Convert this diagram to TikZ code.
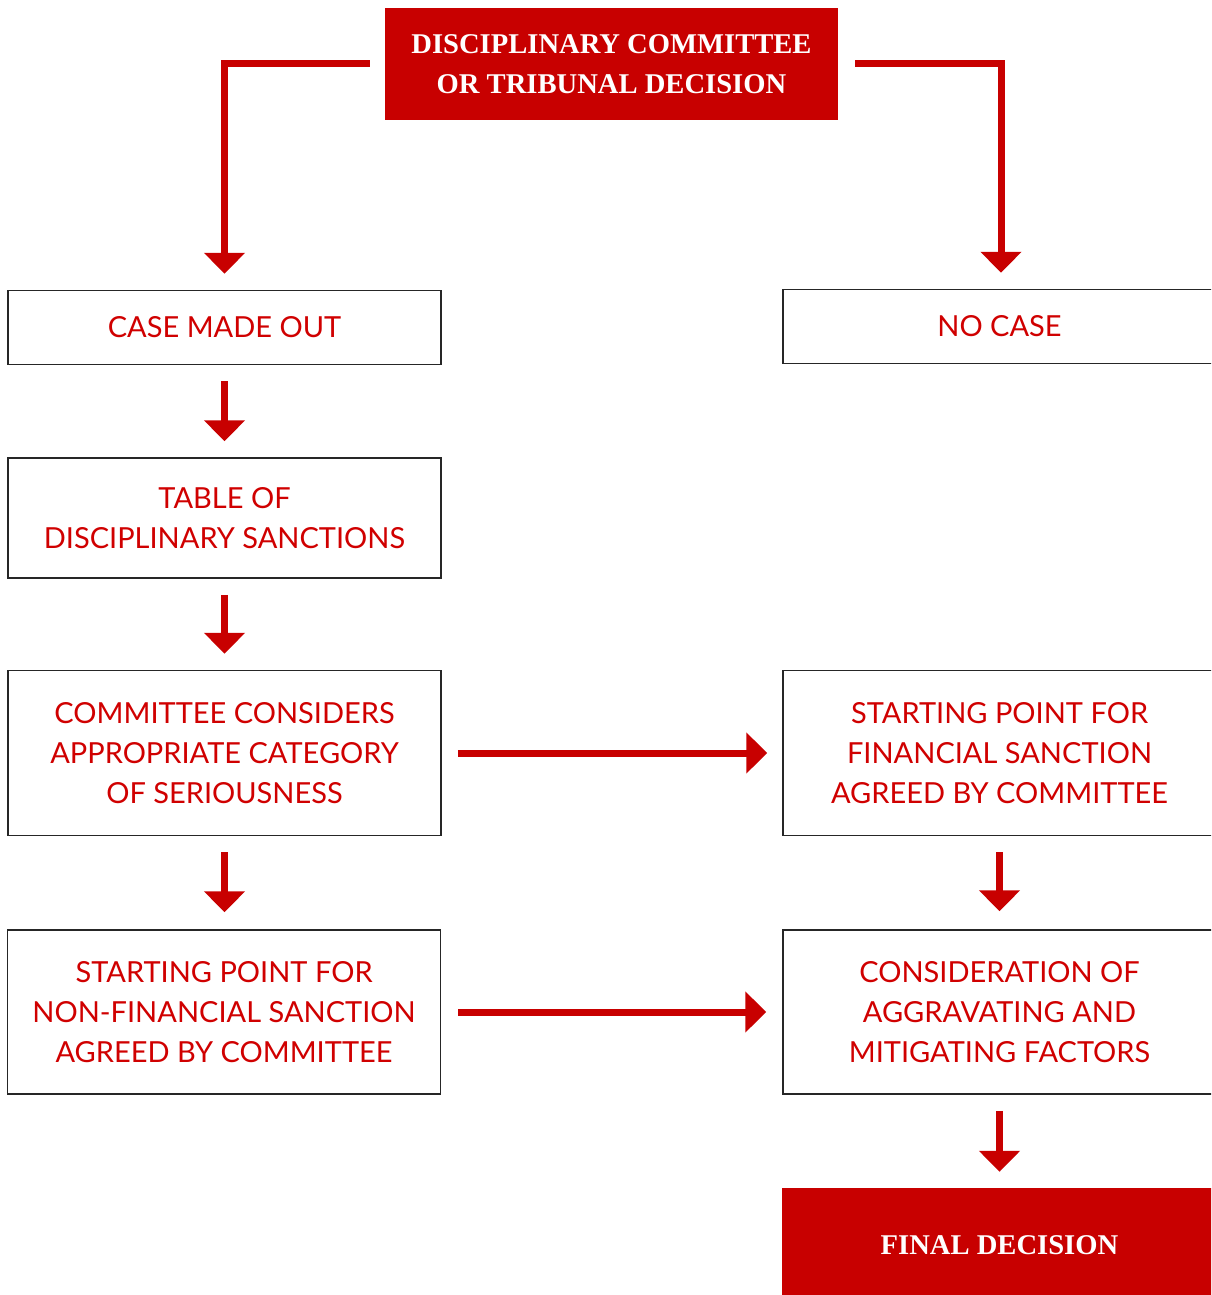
\documentclass[tikz,border=0pt]{standalone}
\usepackage{fontspec}
\setmainfont{Lato}
\newfontfamily\headfont{Liberation Serif}
\usetikzlibrary{arrows.meta}
\definecolor{rd}{HTML}{C80000}
\definecolor{txt}{HTML}{D00000}
\tikzset{
  x=1pt, y=-1pt,
  box/.style={draw=black!85, line width=1.5pt, fill=white, minimum width=433pt, align=center, text=txt,
    font=\fontsize{29}{40}\selectfont, inner sep=0pt},
  redbox/.style={fill=rd, draw=none, align=center, text=white, font=\headfont\bfseries\fontsize{28.6}{40}\selectfont, inner sep=0pt},
  arr/.style={draw=rd, line width=7pt, miter limit=10, line join=miter,
    -{Triangle[width=40pt,length=21pt]}},
}
\begin{document}
\begin{tikzpicture}
\useasboundingbox (0,0) rectangle (1211,1295);
\begin{scope}
\clip (0,0) rectangle (1211,1295);
\node[redbox, minimum width=453pt, minimum height=112pt] (top) at (611.5,64) {DISCIPLINARY COMMITTEE\\OR TRIBUNAL DECISION};
\node[box, minimum height=74pt] (case) at (224.5,327.5) {CASE MADE OUT};
\node[box, minimum height=74pt] (nocase) at (999.5,326.5) {NO CASE};
\node[box, minimum height=120pt] (table) at (224.5,518) {TABLE OF\\DISCIPLINARY SANCTIONS};
\node[box, minimum height=165pt] (comm) at (224.5,753) {COMMITTEE CONSIDERS\\APPROPRIATE CATEGORY\\OF SERIOUSNESS};
\node[box, minimum height=165pt] (fin) at (999.5,753) {STARTING POINT FOR\\FINANCIAL SANCTION\\AGREED BY COMMITTEE};
\node[box, minimum height=164pt] (nonfin) at (224,1012) {STARTING POINT FOR\\NON-FINANCIAL SANCTION\\AGREED BY COMMITTEE};
\node[box, minimum height=164pt] (cons) at (999.5,1012) {CONSIDERATION OF\\AGGRAVATING AND\\MITIGATING FACTORS};
\node[redbox, minimum width=435pt, minimum height=114pt] (final) at (999.5,1245) {FINAL DECISION};

\draw[arr] ([xshift=-15pt]top.west) -| ([yshift=16pt]case.north);
\draw[arr] ([xshift=17pt]top.east) -| ([xshift=1.5pt,yshift=16pt]nocase.north);
\draw[arr] ([yshift=-16pt]case.south) -- ([yshift=16pt]table.north);
\draw[arr] ([yshift=-16pt]table.south) -- ([yshift=16pt]comm.north);
\draw[arr] ([yshift=-16pt]comm.south) -- ([yshift=17pt]comm.south |- nonfin.north);
\draw[arr] ([xshift=16pt]comm.east) -- ([xshift=-15pt]fin.west);
\draw[arr] ([xshift=17pt]nonfin.east) -- ([xshift=-16pt]cons.west);
\draw[arr] ([yshift=-16pt]fin.south) -- ([yshift=18pt]cons.north);
\draw[arr] ([yshift=-16pt]cons.south) -- ([yshift=16pt]final.north);
\end{scope}
\end{tikzpicture}
\end{document}
